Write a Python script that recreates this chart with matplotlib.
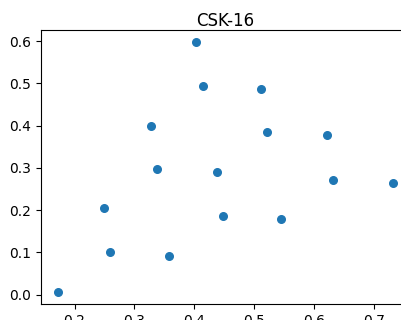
import matplotlib
matplotlib.use("Agg")
import matplotlib.pyplot as plt

# scatter points for the CSK-16 set
x_vals = [0.172, 0.250, 0.260, 0.327, 0.337, 0.358, 0.403, 0.415, 0.437,
          0.447, 0.512, 0.522, 0.545, 0.622, 0.632, 0.732]
y_vals = [0.007, 0.204, 0.101, 0.400, 0.297, 0.092, 0.597, 0.495, 0.289,
          0.187, 0.487, 0.384, 0.178, 0.377, 0.272, 0.265]

fig = plt.figure(figsize=(4.01, 3.2), dpi=100)
# axes runs past the right edge of the canvas
ax = fig.add_axes([41 / 401, 1 - 304 / 320, 369 / 401, 274 / 320])
ax.scatter(x_vals, y_vals, color="#1f77b4", s=30)
ax.set_title("CSK-16", pad=3)
ax.set_xticks([0.2, 0.3, 0.4, 0.5, 0.6, 0.7])
ax.set_yticks([0.0, 0.1, 0.2, 0.3, 0.4, 0.5, 0.6])

fig.savefig("out.png", dpi=100)
